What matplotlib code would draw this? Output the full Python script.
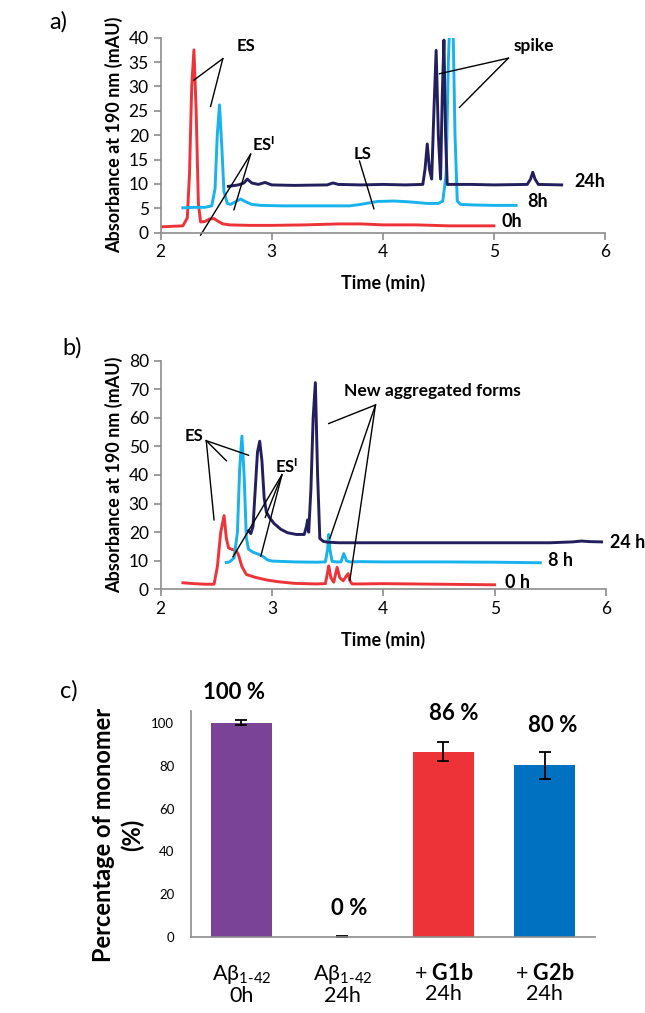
import matplotlib
matplotlib.use("Agg")
import matplotlib.pyplot as plt

plt.rcParams['font.family'] = ['Lato', 'DejaVu Sans']
plt.rcParams['mathtext.fontset'] = 'custom'
plt.rcParams['mathtext.rm'] = 'Lato'
plt.rcParams['mathtext.bf'] = 'Lato:bold'
plt.rcParams['mathtext.it'] = 'Lato:italic'

# ---- panel a: chromatograms (time in min, absorbance in mAU)
a_t_0h = [2.00, 2.10, 2.20, 2.24, 2.26, 2.28, 2.30, 2.32, 2.34, 2.36, 2.40, 2.44, 2.48,
          2.52, 2.56, 2.62, 2.80, 3.00, 3.30, 3.60, 3.80, 4.00, 4.30, 4.60, 5.00]
a_y_0h = [1.2, 1.3, 1.4, 3.0, 12.0, 30.0, 37.5, 25.0, 6.0, 2.2, 2.3, 2.8, 2.9,
          2.3, 1.8, 1.6, 1.5, 1.5, 1.6, 1.8, 1.8, 1.6, 1.6, 1.4, 1.4]

a_t_8h = [2.20, 2.30, 2.40, 2.46, 2.49, 2.51, 2.53, 2.55, 2.57, 2.60, 2.63, 2.67, 2.72,
          2.76, 2.82, 2.90, 3.10, 3.40, 3.70, 3.80, 3.95, 4.10, 4.25, 4.40, 4.50, 4.54,
          4.57, 4.59, 4.61, 4.63, 4.65, 4.67, 4.70, 4.80, 5.00, 5.20]
a_y_8h = [5.1, 5.2, 5.2, 5.5, 9.0, 20.0, 26.2, 18.0, 8.5, 6.0, 5.8, 6.3, 6.9,
          6.4, 5.8, 5.6, 5.5, 5.5, 5.5, 5.8, 6.4, 6.5, 6.3, 6.0, 6.0, 6.5,
          12.0, 35.0, 48.0, 45.0, 20.0, 6.5, 5.8, 5.7, 5.6, 5.6]

a_t_24h = [2.61, 2.70, 2.75, 2.78, 2.82, 2.88, 2.94, 3.00, 3.20, 3.50, 3.55, 3.60, 3.80,
           4.00, 4.20, 4.36, 4.38, 4.40, 4.42, 4.44, 4.46, 4.48, 4.50, 4.52, 4.535, 4.55,
           4.565, 4.58, 4.80, 5.00, 5.30, 5.33, 5.35, 5.37, 5.40, 5.61]
a_y_24h = [9.5, 9.8, 10.2, 11.0, 10.2, 9.9, 10.3, 9.8, 9.7, 9.8, 10.2, 9.9, 9.8,
           9.9, 9.8, 9.9, 13.0, 18.2, 13.0, 11.0, 25.0, 37.4, 20.0, 11.0, 28.0, 39.5,
           20.0, 9.9, 9.9, 9.8, 9.9, 11.0, 12.4, 11.0, 9.9, 9.8]

# ---- panel b: chromatograms
b_t_0h = [2.20, 2.30, 2.40, 2.48, 2.51, 2.54, 2.57, 2.59, 2.61, 2.64, 2.68, 2.70, 2.73,
          2.77, 2.85, 2.95, 3.05, 3.20, 3.40, 3.48, 3.50, 3.51, 3.53, 3.555, 3.585, 3.61,
          3.64, 3.665, 3.685, 3.70, 3.72, 3.80, 4.00, 4.50, 5.00]
b_y_0h = [2.3, 2.0, 1.8, 1.8, 8.0, 20.0, 25.8, 18.0, 14.5, 14.0, 13.5, 12.0, 8.0,
          5.2, 4.2, 3.3, 2.7, 2.1, 1.9, 2.0, 6.0, 8.2, 4.0, 2.5, 7.7, 4.0,
          3.0, 4.5, 5.5, 3.0, 1.9, 1.9, 2.0, 1.8, 1.6]

b_t_8h = [2.59, 2.62, 2.66, 2.69, 2.71, 2.73, 2.75, 2.77, 2.79, 2.83, 2.88, 2.92, 2.96,
          3.00, 3.20, 3.40, 3.48, 3.50, 3.51, 3.52, 3.54, 3.58, 3.62, 3.645, 3.67, 3.70,
          3.80, 4.00, 4.50, 5.00, 5.41]
b_y_8h = [9.4, 9.6, 11.0, 20.0, 42.0, 53.6, 40.0, 18.0, 14.0, 13.0, 12.3, 11.5, 10.3,
          9.9, 9.6, 9.5, 9.6, 14.0, 19.2, 14.0, 9.8, 9.6, 9.6, 12.5, 10.0, 9.6,
          9.7, 9.6, 9.6, 9.5, 9.3]

b_t_24h = [2.79, 2.81, 2.83, 2.85, 2.87, 2.89, 2.91, 2.93, 2.95, 2.98, 3.02, 3.08, 3.14,
           3.22, 3.29, 3.31, 3.32, 3.33, 3.35, 3.37, 3.39, 3.41, 3.43, 3.46, 3.50, 3.60,
           4.00, 4.50, 5.00, 5.50, 5.70, 5.78, 5.85, 5.96]
b_y_24h = [20.5, 19.5, 22.0, 35.0, 48.0, 51.8, 45.0, 32.0, 27.0, 25.0, 23.0, 21.0, 19.8,
           19.2, 19.2, 22.0, 24.3, 20.0, 35.0, 60.0, 72.3, 40.0, 17.8, 16.8, 16.5, 16.3,
           16.3, 16.3, 16.3, 16.3, 16.6, 16.9, 16.7, 16.6]

# ---- panel c: percentage of monomer
c_labels = ['A\u03b2$_{\\mathrm{1\u201042}}$\n0h', 'A\u03b2$_{\\mathrm{1\u201042}}$\n24h',
            '+ $\\mathbf{G1b}$\n24h', '+ $\\mathbf{G2b}$\n24h']
c_values = [100.0, 0.0, 86.5, 80.3]
c_errors = [1.2, 0.3, 4.5, 6.3]
c_text = ['100 %', '0 %', '86 %', '80 %']
c_colors = ['#7A4397', '#7A4397', '#EE3338', '#0070C0']

RED = '#EE3338'
CYAN = '#18B2EC'
NAVY = '#231F5E'
GREY = '#8C8C8C'

fig = plt.figure(figsize=(6.45, 10.13), dpi=100)


def style_chrom(ax, ymax, ystep):
    ax.set_xlim(2, 6)
    ax.set_ylim(0, ymax)
    ax.set_xticks([2, 3, 4, 5, 6])
    ax.set_yticks(range(0, ymax + 1, ystep))
    for s in ['top', 'right']:
        ax.spines[s].set_visible(False)
    for s in ['left', 'bottom']:
        ax.spines[s].set_color(GREY)
        ax.spines[s].set_linewidth(1.2)
    ax.tick_params(colors=GREY, labelcolor='black', labelsize=12.5, length=5, width=1.2)
    ax.set_ylabel('Absorbance at 190 nm (mAU)', fontsize=13, fontweight='bold', labelpad=4)
    ax.set_xlabel('Time (min)', fontsize=13, fontweight='bold', labelpad=10)


def seg(ax, p0, p1):
    ax.plot([p0[0], p1[0]], [p0[1], p1[1]], color='black', lw=1, clip_on=False)


# panel a
ax1 = fig.add_axes([0.249, 0.7703, 0.689, 0.1925])
ax1.plot(a_t_0h, a_y_0h, color=RED, lw=2.1)
ax1.plot(a_t_8h, a_y_8h, color=CYAN, lw=2.1)
ax1.plot(a_t_24h, a_y_24h, color=NAVY, lw=2.1)
style_chrom(ax1, 40, 5)
ax1.text(2.77, 38.3, 'ES', fontsize=12, fontweight='bold', ha='center', va='center')
seg(ax1, (2.56, 35.7), (2.30, 31.3))
seg(ax1, (2.56, 35.7), (2.45, 25.9))
ax1.text(2.93, 18.0, '$\\mathbf{ES^{I}}$', fontsize=12, ha='center', va='center')
seg(ax1, (2.81, 16.1), (2.36, -0.5))
seg(ax1, (2.81, 16.1), (2.66, 4.7))
ax1.text(3.82, 16.1, 'LS', fontsize=12, fontweight='bold', ha='center', va='center')
seg(ax1, (3.79, 14.7), (3.92, 4.9))
ax1.text(5.36, 38.2, 'spike', fontsize=12.5, fontweight='bold', ha='center', va='center')
seg(ax1, (5.13, 35.8), (4.51, 32.6))
seg(ax1, (5.13, 35.8), (4.69, 25.7))
ax1.text(5.72, 10.5, '24h', fontsize=13, fontweight='bold', ha='left', va='center')
ax1.text(5.30, 6.4, '8h', fontsize=13, fontweight='bold', ha='left', va='center')
ax1.text(5.07, 2.2, '0h', fontsize=13, fontweight='bold', ha='left', va='center')
fig.text(0.09, 0.978, 'a)', fontsize=17, ha='center', va='center')

# panel b
ax2 = fig.add_axes([0.249, 0.4182, 0.6905, 0.2258])
ax2.plot(b_t_0h, b_y_0h, color=RED, lw=2.1)
ax2.plot(b_t_8h, b_y_8h, color=CYAN, lw=2.1)
ax2.plot(b_t_24h, b_y_24h, color=NAVY, lw=2.1)
style_chrom(ax2, 80, 10)
ax2.text(2.30, 53.8, 'ES', fontsize=12, fontweight='bold', ha='center', va='center')
seg(ax2, (2.41, 52.0), (2.48, 24.3))
seg(ax2, (2.41, 52.0), (2.59, 45.0))
seg(ax2, (2.41, 52.0), (2.79, 46.9))
ax2.text(3.13, 42.8, '$\\mathbf{ES^{I}}$', fontsize=12, ha='center', va='center')
seg(ax2, (3.09, 40.1), (2.65, 11.4))
seg(ax2, (3.09, 40.1), (2.90, 11.6))
seg(ax2, (3.09, 40.1), (2.94, 25.2))
ax2.text(4.44, 69.5, 'New aggregated forms', fontsize=12.5, fontweight='bold',
         ha='center', va='center')
seg(ax2, (3.93, 64.5), (3.51, 58.0))
seg(ax2, (3.93, 64.5), (3.52, 17.8))
seg(ax2, (3.93, 64.5), (3.70, 3.2))
ax2.text(6.04, 16.4, '24 h', fontsize=13, fontweight='bold', ha='left', va='center')
ax2.text(5.48, 10.0, '8 h', fontsize=13, fontweight='bold', ha='left', va='center')
ax2.text(5.09, 2.4, '0 h', fontsize=13, fontweight='bold', ha='left', va='center')
fig.text(0.112, 0.657, 'b)', fontsize=17, ha='center', va='center')

# panel c
ax3 = fig.add_axes([0.296, 0.075, 0.6265, 0.223])
x = range(len(c_values))
ax3.bar(x, c_values, width=0.6, color=c_colors)
ax3.errorbar(x, c_values, yerr=c_errors, fmt='none', ecolor='black', elinewidth=1.3,
             capsize=4, capthick=1.3)
ax3.set_xlim(-0.5, 3.5)
ax3.set_ylim(0, 105.5)
ax3.set_yticks(range(0, 101, 20))
ax3.set_xticks(list(x))
ax3.set_xticklabels(c_labels, fontsize=15.5, linespacing=1.0)
for s in ['top', 'right']:
    ax3.spines[s].set_visible(False)
for s in ['left', 'bottom']:
    ax3.spines[s].set_color(GREY)
    ax3.spines[s].set_linewidth(1.2)
ax3.tick_params(axis='y', length=0, labelsize=9.5, pad=12)
ax3.tick_params(axis='x', length=0, pad=19)
ax3.set_ylabel('Percentage of monomer\n(%)', fontsize=17, fontweight='bold',
               linespacing=1.3)
ax3.yaxis.set_label_coords(-0.115, 0.45)
text_y = [114.4, 13.3, 104.4, 98.8]
text_dx = [-0.07, 0.07, 0.1, 0.08]
for i in range(len(c_values)):
    ax3.text(i + text_dx[i], text_y[i], c_text[i], fontsize=16, fontweight='bold',
             ha='center', va='center', clip_on=False)
fig.text(0.107, 0.318, 'c)', fontsize=17, ha='center', va='center')

fig.savefig('out.png', dpi=100)
